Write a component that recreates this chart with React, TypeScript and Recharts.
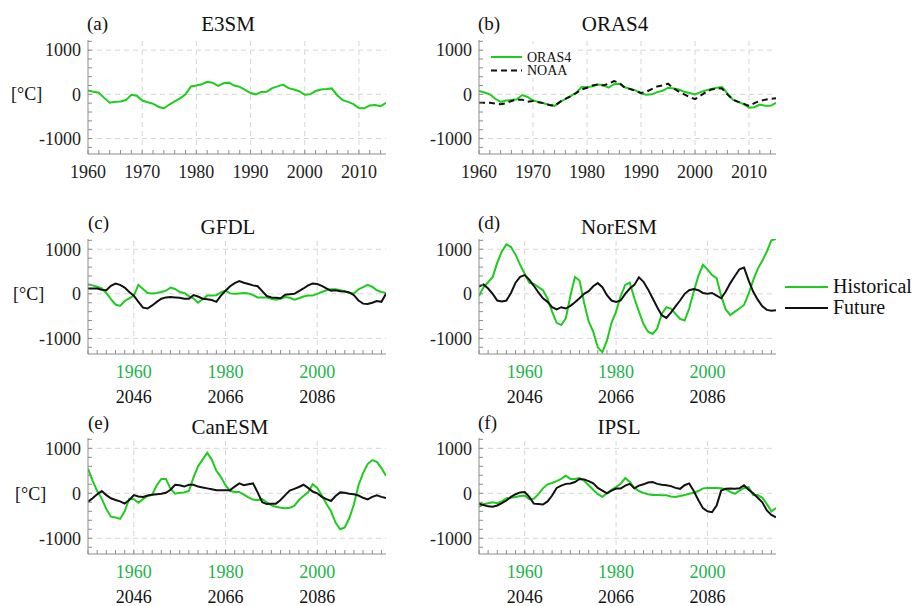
import React from 'react';
import { LineChart, Line, XAxis, YAxis, ReferenceLine } from 'recharts';

const FONT = "'Liberation Serif', 'Times New Roman', Times, 'DejaVu Serif', serif";
const GREEN = '#1ecb1e';
const LABEL_GREEN = '#22b34a';
const BLACK = '#111111';
const FRAME = '#8c8c8c';
const GRID = '#d6d6d6';
const TEXT = '#222222';

// ---- axes / tick labels ----
const yDomain = [-1350, 1230];
const yMinorTicks = [-1200, -1000, -800, -600, -400, -200, 0, 200, 400, 600, 800, 1000, 1200];
const yLabels = [-1000, 0, 1000];

const obsXTicks = [1960, 1962, 1964, 1966, 1968, 1970, 1972, 1974, 1976, 1978, 1980, 1982, 1984, 1986, 1988,
  1990, 1992, 1994, 1996, 1998, 2000, 2002, 2004, 2006, 2008, 2010, 2012, 2014];
const obsXLabels = [1960, 1970, 1980, 1990, 2000, 2010];
const obsXGrid = [1970, 1980, 1990, 2000, 2010];

const modXTicks = [1950, 1952, 1954, 1956, 1958, 1960, 1962, 1964, 1966, 1968, 1970, 1972, 1974, 1976, 1978,
  1980, 1982, 1984, 1986, 1988, 1990, 1992, 1994, 1996, 1998, 2000, 2002, 2004, 2006, 2008, 2010, 2012, 2014];
const modXLabels = [1960, 1980, 2000];
const futureLabels = ['2046', '2066', '2086'];

// ---- observation period (1960-2015) ----
const obsYears = [1960, 1961, 1962, 1963, 1964, 1965, 1966, 1967, 1968, 1969,
  1970, 1971, 1972, 1973, 1974, 1975, 1976, 1977, 1978, 1979,
  1980, 1981, 1982, 1983, 1984, 1985, 1986, 1987, 1988, 1989,
  1990, 1991, 1992, 1993, 1994, 1995, 1996, 1997, 1998, 1999,
  2000, 2001, 2002, 2003, 2004, 2005, 2006, 2007, 2008, 2009,
  2010, 2011, 2012, 2013, 2014, 2015];

const e3sm = [90, 60, 37, -80, -190, -170, -160, -130, -10, -30,
  -140, -180, -210, -280, -320, -230, -160, -90, 0, 180,
  200, 230, 285, 265, 190, 250, 265, 200, 170, 100,
  30, 0, 55, 60, 140, 180, 220, 140, 110, 70,
  -10, 0, 75, 110, 120, 135, -20, -130, -170, -220,
  -310, -315, -250, -240, -270, -190];

const oras4 = [75, 40, 0, -100, -170, -140, -130, -110, -15, -60,
  -140, -170, -200, -240, -260, -170, -110, -40, 40, 165,
  160, 180, 220, 210, 150, 230, 240, 160, 120, 90,
  20, -10, 0, 50, 80, 150, 130, 110, 60, 30,
  0, 50, 90, 120, 150, 165, 20, -120, -170, -220,
  -300, -290, -230, -260, -260, -190];

const noaa = [-190, -190, -190, -210, -225, -200, -150, -120, -120, -170,
  -150, -180, -200, -240, -260, -170, -100, -40, 30, 110,
  150, 200, 225, 200, 240, 300, 260, 150, 120, 80,
  30, 60, 120, 180, 200, 240, 140, 60, 0, -60,
  -110, -30, 50, 110, 130, 130, 0, -120, -170, -210,
  -260, -200, -150, -120, -100, -90];

// ---- model period (historical year axis 1950-2015, future = +86) ----
const modYears = [1950, 1951, 1952, 1953, 1954, 1955, 1956, 1957, 1958, 1959,
  1960, 1961, 1962, 1963, 1964, 1965, 1966, 1967, 1968, 1969,
  1970, 1971, 1972, 1973, 1974, 1975, 1976, 1977, 1978, 1979,
  1980, 1981, 1982, 1983, 1984, 1985, 1986, 1987, 1988, 1989,
  1990, 1991, 1992, 1993, 1994, 1995, 1996, 1997, 1998, 1999,
  2000, 2001, 2002, 2003, 2004, 2005, 2006, 2007, 2008, 2009,
  2010, 2011, 2012, 2013, 2014, 2015];

const gfdlHist = [218, 190, 160, 120, 20, -120, -240, -270, -160, -100,
  -40, 200, 110, 20, 10, 20, 40, 70, 140, 110,
  40, 20, -50, -100, -200, -120, -40, -40, -30, 30,
  70, 10, 0, 10, 20, 10, -30, -80, -80, -80,
  -110, -130, -110, -70, -90, -130, -100, -60, -40, -40,
  0, 40, 80, 100, 100, 80, 60, 20, 10, 100,
  150, 200, 160, 80, 40, 20];
const gfdlFut = [120, 120, 120, 90, 80, 180, 230, 200, 140, 40,
  -40, -180, -310, -330, -260, -180, -110, -80, -70, -80,
  -90, -110, -110, -30, -60, -110, -120, -140, -180, -40,
  70, 170, 240, 285, 250, 220, 190, 170, 60, -50,
  -80, -90, -100, -20, -10, 0, 60, 120, 190, 230,
  220, 180, 120, 70, 80, 60, 50, 30, -30, -150,
  -220, -230, -200, -160, -180, 0];

const norHist = [-50, 150, 260, 380, 700, 950, 1110, 1050, 880, 650,
  450, 250, 220, 150, 80, -110, -400, -650, -700, -550,
  -50, 380, 300, -200, -620, -850, -1200, -1310, -1050, -650,
  -400, -50, 200, 250, -100, -400, -680, -850, -900, -780,
  -450, -300, -330, -450, -560, -600, -330, 50, 400, 650,
  550, 420, 350, -50, -350, -480, -400, -330, -250, 0,
  300, 560, 740, 950, 1200, 1230];
const norFut = [160, 210, 120, 0, -150, -170, -150, 20, 250, 380,
  420, 320, 180, 30, -100, -180, -300, -350, -300, -330,
  -270, -190, -100, 0, 60, 170, 240, 150, -30, -150,
  -180, -150, 0, 120, 200, 370, 270, 100, -100, -300,
  -480, -540, -420, -280, -150, 0, 80, 110, 80, 20,
  0, 20, -40, -100, 50, 240, 400, 550, 590, 300,
  50, -130, -280, -360, -380, -370];

const canHist = [550, 280, 50, -120, -350, -520, -540, -570, -400, -120,
  -130, -210, -130, -60, -30, 180, 320, 320, 100, -10,
  10, 20, 50, 350, 600, 750, 900, 750, 500, 360,
  180, 50, 30, 30, -30, -90, -140, -150, -130, -200,
  -270, -300, -320, -330, -320, -280, -150, -60, 20, 200,
  120, -50, -230, -400, -650, -800, -760, -550, -250, 180,
  450, 650, 740, 700, 560, 390];
const canFut = [-190, -110, -20, 50, -40, -110, -150, -180, -230, -150,
  -40, -70, -80, -50, -30, -20, -10, 10, 80, 190,
  180, 150, 190, 190, 150, 130, 110, 90, 70, 70,
  70, 70, 150, 220, 180, 200, 220, 20, -200, -240,
  -230, -230, -150, -40, 60, 100, 140, 190, 120, 40,
  0, -80, -130, -170, -60, 20, 10, -10, -20, -50,
  -100, -135, -80, -45, -80, -105];

const ipslHist = [-300, -240, -220, -200, -220, -180, -110, -100, -80, -60,
  -50, -130, -120, -20, 110, 200, 230, 270, 320, 390,
  320, 320, 340, 280, 180, 80, -20, -80, 0, 80,
  140, 210, 340, 250, 120, 50, 10, -20, -40, -40,
  -45, -45, -70, -80, -60, -40, -10, 10, 50, 110,
  120, 120, 120, 110, 90, 30, -10, 60, 120, 140,
  -40, -40, -100, -240, -400, -330];
const ipslFut = [-230, -260, -290, -300, -270, -220, -160, -80, -20, 20,
  30, -80, -230, -240, -250, -180, -50, 120, 170, 210,
  220, 250, 320, 310, 270, 220, 120, 60, 0, 60,
  105, 105, 170, 210, 110, 170, 200, 240, 250, 210,
  190, 180, 160, 120, 100, 180, 220, 50, -150, -330,
  -400, -420, -270, 60, 100, 105, 100, 110, 180, 80,
  0, -100, -200, -380, -480, -534];

const pair = (years: number[], a: number[], b: number[]) =>
  years.map((year, i) => ({ year, a: a[i], b: b[i] }));

type Series = { key: string; color: string; dash?: string };

interface Box { x: number; y: number; w: number; h: number }

interface PanelProps {
  box: Box;
  data: any[];
  series: Series[];
  xDomain: number[];
  xTicks: number[];
  xLabels: number[];
  xGrid: number[];
  dual?: boolean;
}

const YAW = 70; // left axis width
const XAH = 56; // bottom axis height

const tickText = { fontFamily: FONT, fontSize: 18 };

function Panel({ box, data, series, xDomain, xTicks, xLabels, xGrid, dual }: PanelProps) {
  const yTick = ({ x, y, payload }: any) => {
    if (!yLabels.includes(payload.value)) return <g />;
    return (
      <text x={x} y={y} dy="0.35em" textAnchor="end" fill={TEXT} style={tickText}>
        {payload.value}
      </text>
    );
  };

  const xTick = ({ x, y, payload }: any) => {
    const idx = xLabels.indexOf(payload.value);
    if (idx < 0) return <g />;
    if (!dual) {
      return (
        <text x={x} y={y + 24} textAnchor="middle" fill={TEXT} style={tickText}>
          {payload.value}
        </text>
      );
    }
    return (
      <g>
        <text x={x} y={y + 24} textAnchor="middle" fill={LABEL_GREEN} style={tickText}>
          {payload.value}
        </text>
        <text x={x} y={y + 49} textAnchor="middle" fill={BLACK} style={tickText}>
          {futureLabels[idx]}
        </text>
      </g>
    );
  };

  return (
    <div style={{ position: 'absolute', left: box.x - YAW, top: box.y - 2 }}>
      <LineChart
        width={box.w + YAW + 2}
        height={box.h + XAH + 2}
        data={data}
        margin={{ top: 2, right: 2, left: 0, bottom: 0 }}
      >
        <XAxis
          xAxisId="top"
          orientation="top"
          type="number"
          dataKey="year"
          domain={xDomain}
          allowDataOverflow
          ticks={xTicks}
          interval={0}
          height={0}
          tick={false}
          tickSize={-4}
          stroke={FRAME}
        />
        <YAxis
          yAxisId="right"
          orientation="right"
          type="number"
          domain={yDomain}
          allowDataOverflow
          ticks={yMinorTicks}
          interval={0}
          width={0}
          tick={false}
          tickSize={-4}
          stroke={FRAME}
        />
        <XAxis
          type="number"
          dataKey="year"
          domain={xDomain}
          allowDataOverflow
          ticks={xTicks}
          interval={0}
          height={XAH}
          tickSize={-4}
          tickMargin={4}
          tick={xTick}
          stroke={FRAME}
        />
        <YAxis
          type="number"
          domain={yDomain}
          allowDataOverflow
          ticks={yMinorTicks}
          interval={0}
          width={YAW}
          tickSize={-4}
          tickMargin={11}
          tick={yTick}
          stroke={FRAME}
        />
        {yLabels.map((v) => (
          <ReferenceLine key={`gy${v}`} y={v} stroke={GRID} strokeDasharray="5 4" />
        ))}
        {xGrid.map((v) => (
          <ReferenceLine key={`gx${v}`} x={v} stroke={GRID} strokeDasharray="5 4" />
        ))}
        {series.map((s) => (
          <Line
            key={s.key}
            type="linear"
            dataKey={s.key}
            stroke={s.color}
            strokeWidth={2}
            strokeDasharray={s.dash}
            dot={false}
            isAnimationActive={false}
          />
        ))}
      </LineChart>
    </div>
  );
}

const histFut: Series[] = [
  { key: 'a', color: GREEN },
  { key: 'b', color: BLACK },
];

const T = ({ x, y, size, anchor, children }: any) => (
  <text x={x} y={y} textAnchor={anchor || 'start'} fill="#111" style={{ fontFamily: FONT, fontSize: size }}>
    {children}
  </text>
);

export default function App() {
  return (
    <div style={{ position: 'absolute', left: 0, top: 0, width: 922, height: 606, background: '#fff' }}>
      <Panel
        box={{ x: 88, y: 40, w: 298, h: 114 }}
        data={pair(obsYears, e3sm, e3sm)}
        series={[{ key: 'a', color: GREEN }]}
        xDomain={[1960, 2015]}
        xTicks={obsXTicks}
        xLabels={obsXLabels}
        xGrid={obsXGrid}
      />
      <Panel
        box={{ x: 479, y: 40, w: 297, h: 114 }}
        data={pair(obsYears, oras4, noaa)}
        series={[
          { key: 'a', color: GREEN },
          { key: 'b', color: BLACK, dash: '6 4' },
        ]}
        xDomain={[1960, 2015]}
        xTicks={obsXTicks}
        xLabels={obsXLabels}
        xGrid={obsXGrid}
      />
      <Panel
        box={{ x: 88, y: 239, w: 298, h: 115 }}
        data={pair(modYears, gfdlHist, gfdlFut)}
        series={histFut}
        xDomain={[1950, 2015]}
        xTicks={modXTicks}
        xLabels={modXLabels}
        xGrid={modXLabels}
        dual
      />
      <Panel
        box={{ x: 479, y: 239, w: 297, h: 115 }}
        data={pair(modYears, norHist, norFut)}
        series={histFut}
        xDomain={[1950, 2015]}
        xTicks={modXTicks}
        xLabels={modXLabels}
        xGrid={modXLabels}
        dual
      />
      <Panel
        box={{ x: 88, y: 438, w: 298, h: 116 }}
        data={pair(modYears, canHist, canFut)}
        series={histFut}
        xDomain={[1950, 2015]}
        xTicks={modXTicks}
        xLabels={modXLabels}
        xGrid={modXLabels}
        dual
      />
      <Panel
        box={{ x: 479, y: 438, w: 297, h: 116 }}
        data={pair(modYears, ipslHist, ipslFut)}
        series={histFut}
        xDomain={[1950, 2015]}
        xTicks={modXTicks}
        xLabels={modXLabels}
        xGrid={modXLabels}
        dual
      />

      <svg width={922} height={606} style={{ position: 'absolute', left: 0, top: 0, pointerEvents: 'none' }}>
        {/* panel letters and titles */}
        <T x={87} y={30} size={19}>(a)</T>
        <T x={228} y={31} size={21} anchor="middle">E3SM</T>
        <T x={478} y={30} size={19}>(b)</T>
        <T x={615} y={31} size={21} anchor="middle">ORAS4</T>
        <T x={88} y={229} size={19}>(c)</T>
        <T x={228} y={234} size={21} anchor="middle">GFDL</T>
        <T x={478} y={229} size={19}>(d)</T>
        <T x={619} y={234} size={21} anchor="middle">NorESM</T>
        <T x={88} y={429} size={19}>(e)</T>
        <T x={230} y={434} size={21} anchor="middle">CanESM</T>
        <T x={478} y={429} size={19}>(f)</T>
        <T x={619} y={434} size={21} anchor="middle">IPSL</T>

        {/* unit labels */}
        <T x={11} y={100} size={18}>[°C]</T>
        <T x={13} y={300} size={18}>[°C]</T>
        <T x={15} y={500} size={18}>[°C]</T>

        {/* legend inside (b) */}
        <rect x={483} y={44} width={92} height={34} fill="#fff" />
        <line x1={491} y1={57} x2={522} y2={57} stroke={GREEN} strokeWidth={2} />
        <T x={527} y={61.5} size={14}>ORAS4</T>
        <line x1={491} y1={70.5} x2={522} y2={70.5} stroke={BLACK} strokeWidth={2} strokeDasharray="6 4" />
        <T x={527} y={75} size={14}>NOAA</T>

        {/* shared legend */}
        <line x1={785} y1={287} x2={828} y2={287} stroke={GREEN} strokeWidth={2} />
        <T x={833} y={293} size={20}>Historical</T>
        <line x1={785} y1={308} x2={828} y2={308} stroke={BLACK} strokeWidth={2} />
        <T x={833} y={314} size={20}>Future</T>
      </svg>
    </div>
  );
}
